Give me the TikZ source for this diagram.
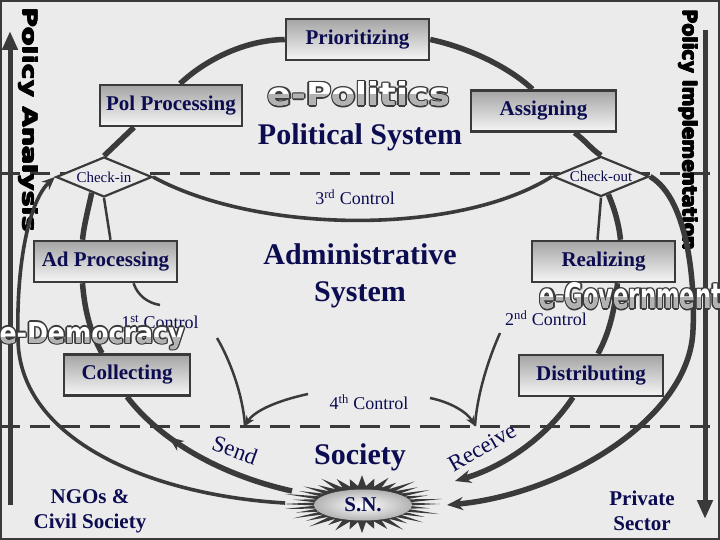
\documentclass[tikz,border=0pt]{standalone}
\usepackage{fontspec}
\usepackage{graphicx}
\setmainfont{Liberation Serif}
\newfontfamily\heavyfont{DejaVu Sans}
\usetikzlibrary{shapes.geometric,arrows.meta,decorations.markings,calc}
\definecolor{bg}{HTML}{EBEBEB}
\definecolor{ln}{HTML}{3A3A3A}
\definecolor{navy}{HTML}{0C0C50}
\definecolor{boxtop}{HTML}{A4A4A4}
\definecolor{boxbot}{HTML}{F6F6F6}
\newcommand\wordart[6]{%
  \foreach \dx/\dy in {-1.6/0,1.6/0,0/-1.6,0/1.6,-1.15/-1.15,1.15/1.15,-1.15/1.15,1.15/-1.15}{%
    \node[inner sep=0pt, text=ln, xshift=\dx pt, yshift=\dy pt] at (#2,#3) {\resizebox{#4pt}{#5pt}{\heavyfont\bfseries #6}};}
  \node[inner sep=0pt, text=white] (#1) at (#2,#3) {\resizebox{#4pt}{#5pt}{\heavyfont\bfseries #6}};
  \begin{scope}
    \clip (#2-#4/2-3, #3+1) rectangle (#2+#4/2+3, #3+#5);
    \node[inner sep=0pt, text=gray!60] at (#2,#3) {\resizebox{#4pt}{#5pt}{\heavyfont\bfseries #6}};
  \end{scope}
}
\newcommand\vheavy[5]{% name, x, y, length, text
  \foreach \dx/\dy in {-0.6/0,0.6/0,0/-0.6,0/0.6}{%
    \node[inner sep=0pt, text=black, rotate=-90, xshift=\dx pt, yshift=\dy pt] at (#2,#3) {\resizebox{#4pt}{15pt}{\heavyfont\bfseries #5}};}
  \node[inner sep=0pt, text=black, rotate=-90] (#1) at (#2,#3) {\resizebox{#4pt}{15pt}{\heavyfont\bfseries #5}};
}
\tikzset{
  procbox/.style={draw=ln, line width=2.5pt, top color=boxtop, bottom color=boxbot, text=navy,
    font=\bfseries\fontsize{21}{24}\selectfont, inner sep=0pt, minimum height=41pt},
  chkbox/.style={diamond, aspect=2.4, draw=ln, line width=2.2pt, fill=bg, inner sep=0pt,
    minimum width=96pt, minimum height=40pt, text=navy, font=\fontsize{15}{16}\selectfont},
  ctl/.style={text=navy, inner sep=0pt, font=\fontsize{18}{20}\selectfont},
  bigtxt/.style={text=navy, inner sep=0pt, align=center, font=\bfseries\fontsize{30}{37}\selectfont},
  sidetxt/.style={text=navy, inner sep=0pt, align=center, font=\bfseries\fontsize{21}{25}\selectfont},
  arctxt/.style={text=navy, inner sep=0pt, font=\fontsize{23}{25}\selectfont},
  thk/.style={ln, line width=5.5pt},
  med/.style={ln, line width=3.6pt},
  thn/.style={ln, line width=2.5pt},
  dashln/.style={ln, line width=3pt, dash pattern=on 20pt off 10pt},
  vert/.style={ln, line width=5pt, -{Triangle[length=19pt,width=15pt]}},
  bigtip/.style={-{Stealth[length=16pt,width=13pt]}},
  smalltip/.style={-{Stealth[length=10pt,width=9pt]}},
}
\begin{document}
\begin{tikzpicture}[x=1pt,y=-1pt]
\useasboundingbox (0,0) rectangle (720,540);
\fill[bg] (0,0) rectangle (720,540);
\draw[ln, line width=2pt] (1,1) rectangle (719,539);

% dashed boundaries
\coordinate (d1l) at (0,174); \coordinate (d1r) at (713,174);
\coordinate (d2l) at (0,426); \coordinate (d2r) at (713,426);
\draw[dashln] (d1l) -- (d1r);
\draw[dashln] (d2l) -- (d2r);

% vertical arrows
\coordinate (la0) at (10,505); \coordinate (la1) at (10,31);
\coordinate (ra0) at (705,30); \coordinate (ra1) at (705,519);
\draw[vert] (la0) -- (la1);
\draw[vert] (ra0) -- (ra1);
\vheavy{pa}{28.5}{120}{224}{Policy Analysis}
\vheavy{pi}{688.5}{130}{240}{Policy Implementation}

% starburst S.N.
\fill[ln] (440,504)
  \foreach \k/\f in {0/1.00,1/0.88,2/1.05,3/0.93,4/1.02,5/0.90,6/1.06,7/0.95,8/0.90,9/1.04,10/0.92,11/1.00,12/0.87,13/1.05,14/0.94,15/1.02,16/0.90,17/1.00,18/1.03,19/0.90,20/1.05,21/0.93,22/0.98,23/0.88,24/1.04,25/0.95,26/0.90,27/1.03,28/0.92,29/1.00,30/0.88,31/1.05,32/0.93,33/1.00,34/0.90,35/1.04}
  { -- ({362+78*\f*cos(\k*10)},{504+28*\f*sin(\k*10)}) -- ({362+46*cos(\k*10+5)},{504+18*sin(\k*10+5)}) } -- cycle;
\node[ellipse, inner color=white, outer color=gray!60, minimum width=98pt, minimum height=31pt, inner sep=0pt,
  text=navy, font=\bfseries\fontsize{21}{24}\selectfont] (sn) at (363,505) {S.N.};
\coordinate (snR1) at (455,481); \coordinate (snR2) at (447,505);
\coordinate (snL1) at (292,491); \coordinate (snL2) at (285,503);

% nodes
\node[procbox, minimum width=143pt] (prio) at (357.5,39.5) {Prioritizing};
\node[procbox, minimum width=142pt] (pol) at (171,105.5) {Pol Processing};
\node[procbox, minimum width=145pt] (asg) at (543.5,111) {Assigning};
\node[procbox, minimum width=143pt] (adp) at (105.5,261.5) {Ad Processing};
\node[procbox, minimum width=143pt] (real) at (603.5,261.5) {Realizing};
\node[procbox, minimum width=126pt] (coll) at (127,375) {Collecting};
\node[procbox, minimum width=144pt] (dist) at (591,375.5) {Distributing};
\node[chkbox] (cin) at (104,177) {Check-in};
\node[chkbox] (cout) at (601,176.5) {Check-out};

% labels
\node[bigtxt] (polsys) at (360,137) {Political System};
\node[bigtxt] (admsys) at (360,276) {Administrative\\System};
\node[bigtxt] (soc) at (360,457) {Society};
\node[ctl] (c3) at (355,197) {3\textsuperscript{rd} Control};
\node[ctl] (c1) at (160,322) {1\textsuperscript{st} Control};
\node[ctl] (c2) at (546,318) {2\textsuperscript{nd} Control};
\node[ctl] (c4) at (369,402) {4\textsuperscript{th} Control};
\node[sidetxt] (ngo) at (90,511) {NGOs \&\\Civil Society};
\node[sidetxt] (priv) at (642,511) {Private\\Sector};
\node[arctxt, rotate=-20] (send) at (235,450) {Send};
\node[arctxt, rotate=30] (recv) at (482,447) {Receive};

% control points
\coordinate (c1a) at (160,305); \coordinate (c1b) at (217,338);
\coordinate (sendpt) at (245,426);
\coordinate (c4l) at (308,394); \coordinate (c4r) at (430,398);
\coordinate (c2a) at (500,333);
\coordinate (recvpt) at (475,426);

% political arc
\draw[thk] ([xshift=9pt]pol.north) .. controls (205,60) and (245,40) .. (prio.west);
\draw[thk] (prio.east) .. controls (470,48) and (510,68) .. ([xshift=-11pt]asg.north);
\draw[thk] ([xshift=-37pt]pol.south) -- (cin.north);
\draw[thk] ([xshift=31pt]asg.south) .. controls (585,140) and (592,150) .. (cout.north);
\draw[med] (cin.east) .. controls (260,235) and (460,235) .. (cout.west);

% administrative
\draw[thk] ($(cin.south)!0.25!(cin.west)$) .. controls (88,210) and (84,225) .. ([xshift=-23pt]adp.north);
\draw[thn] (cin.south) -- ([xshift=5pt]adp.north);
\draw[thn] (cout.south) -- ([xshift=-6pt]real.north);
\draw[thk] ($(cout.south)!0.15!(cout.east)$) .. controls (615,210) and (619,225) .. ([xshift=17pt]real.north);
\draw[thk] ([xshift=-23pt]adp.south) .. controls (85,315) and (92,335) .. ([xshift=-25pt]coll.north);
\draw[thk] ([xshift=14pt]real.south) .. controls (614,315) and (608,335) .. ([xshift=7pt]dist.north);

% controls
\draw[thn] ([xshift=28pt]adp.south) .. controls (138,296) and (148,303) .. (c1a);
\draw[thn] (c1b) .. controls (230,360) and (243,395) .. (sendpt);
\draw[thn, smalltip] (c4l) .. controls (280,400) and (255,410) .. (sendpt);
\draw[thn] (c2a) .. controls (488,360) and (477,395) .. (recvpt);
\draw[thn, smalltip] (c4r) .. controls (450,402) and (467,412) .. (recvpt);

% society links
\draw[thk, bigtip] ([xshift=-18pt]dist.south) .. controls (545,440) and (500,468) .. (snR1);
\draw[thk, bigtip] (cout.east) .. controls (690,200) and (695,290) .. (693,330) .. controls (690,420) and (560,495) .. (snR2);
\draw[thk, decoration={markings, mark=at position 0.7 with {\arrow{Stealth[length=15pt,width=12pt]}}}, postaction={decorate}]
  (snL1) .. controls (220,475) and (160,440) .. (coll.south);
\draw[med, -{Stealth[length=13pt,width=11pt]}] (snL2) .. controls (150,495) and (20,440) .. (18,340) .. controls (16,260) and (30,200) .. (cin.west);

% word art
\wordart{epol}{359}{94}{182}{24}{e-Politics}
\wordart{edem}{92}{336}{185}{21}{e-Democracy}
\wordart{egov}{631}{296}{182}{26}{e-Government}
\end{tikzpicture}
\end{document}
